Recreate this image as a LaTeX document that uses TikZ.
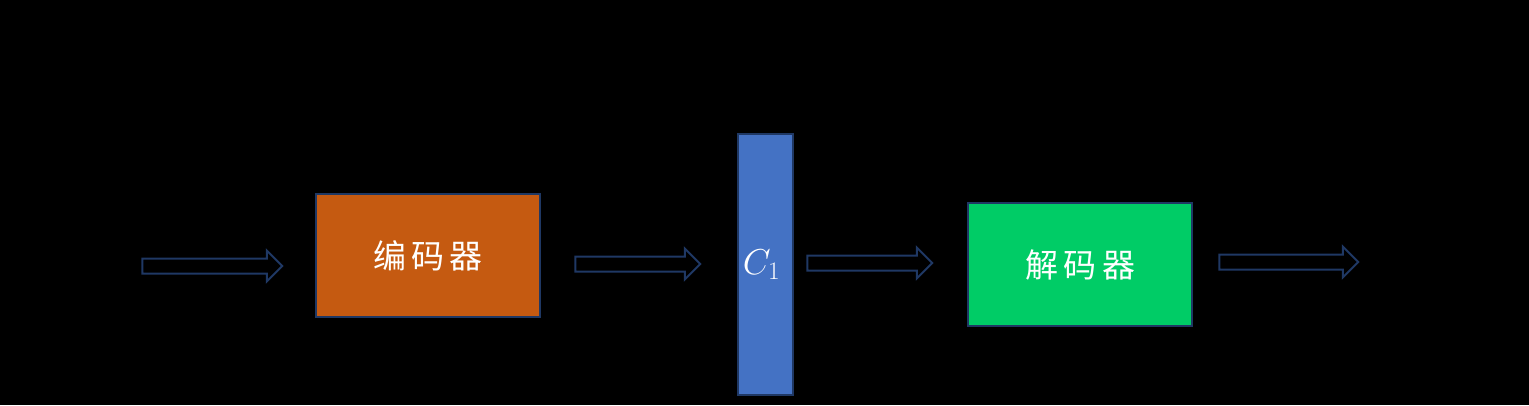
\RequirePackage{fix-cm}
\documentclass[tikz,border=0pt]{standalone}
\usepackage{fontspec}
\newfontfamily\cjk{Noto Sans CJK SC}
\usetikzlibrary{shapes.arrows}
\definecolor{navy}{HTML}{1F3864}
\definecolor{encfill}{HTML}{C55A11}
\definecolor{barfill}{HTML}{4472C4}
\definecolor{decfill}{HTML}{00CC66}
\tikzset{
  blockarrow/.style={single arrow, draw=navy, line width=2pt, fill=none,
    minimum height=#1, single arrow head extend=8pt,
    single arrow head indent=0pt, inner xsep=0pt, inner ysep=6.5pt, outer sep=0pt},
  procbox/.style={draw=navy, line width=2pt, minimum width=224pt, minimum height=123pt,
    inner sep=0pt, outer sep=0pt, text=white, font=\cjk\fontsize{33}{40}\selectfont},
  barbox/.style={draw=navy, line width=2pt, fill=barfill, minimum width=55pt, minimum height=261pt,
    inner sep=0pt, outer sep=0pt, text=white, font=\fontsize{36}{42}\selectfont}
}
\begin{document}
\begin{tikzpicture}[x=1pt,y=-1pt]
\fill[black] (0,0) rectangle (1529,405);
\useasboundingbox (0,0) rectangle (1529,405);
\node[blockarrow=140pt] (a1) at (208.5,266) {};
\node[procbox, fill=encfill] (enc) at (428,255.5) {编\,码\,器};
\node[blockarrow=125pt] (a2) at (634,264) {};
\node[barbox] (c1) at (765.5,264.5) {};
\node[text=white, font=\fontsize{36}{42}\selectfont, inner sep=0pt] (c1label) at ([xshift=-4pt]c1.center) {$C_{\scriptstyle 1}$};
\node[blockarrow=125pt] (a3) at (866,263) {};
\node[procbox, fill=decfill] (dec) at (1080,264.5) {解\,码\,器};
\node[blockarrow=139pt] (a4) at (1285,262) {};
\end{tikzpicture}
\end{document}
